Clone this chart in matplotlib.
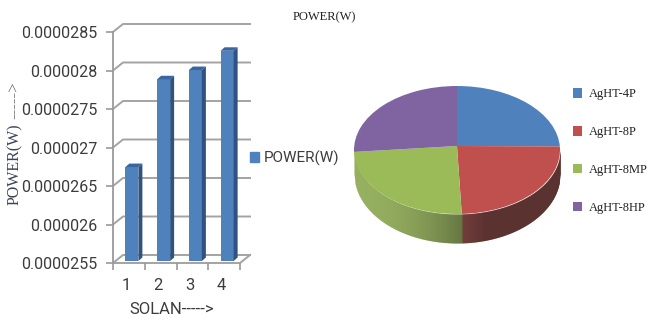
import numpy as np
import matplotlib
matplotlib.use("Agg")
import matplotlib.pyplot as plt
from matplotlib.colors import to_rgb

W, H = 648, 322
SANS = "Roboto"

solan = [1, 2, 3, 4]
power = [2.672e-5, 2.786e-5, 2.798e-5, 2.823e-5]
yticks = [2.55e-5, 2.6e-5, 2.65e-5, 2.7e-5, 2.75e-5, 2.8e-5, 2.85e-5]
ylabels = ["0.0000255", "0.000026", "0.0000265", "0.000027", "0.0000275", "0.000028", "0.0000285"]
pie_labels = ["AgHT-4P", "AgHT-8P", "AgHT-8MP", "AgHT-8HP"]
pie_colors = ["#4f81bd", "#c0504d", "#9bbb59", "#8064a2"]


def px_axes(fig, left, top, right, bottom):
    # axes placed by pixel box of the 648x322 picture
    return fig.add_axes([left / W, 1 - bottom / H, (right - left) / W, (bottom - top) / H])


def mix(c1, c2, t):
    return tuple(a + (b - a) * t for a, b in zip(to_rgb(c1), to_rgb(c2)))


fig = plt.figure(figsize=(W / 100, H / 100), dpi=100, facecolor="white")

# left chart, fake 3d column
ax = px_axes(fig, 113, 32, 240, 263)
ymin, ymax = 2.55e-5, 2.85e-5
ax.set_xlim(0.5, 4.5)
ax.set_ylim(ymin, ymax)
ax.patch.set_visible(False)
for s in ["top", "right", "bottom"]:
    ax.spines[s].set_visible(False)
ax.spines["left"].set_color("#9a9a9a")
ax.spines["left"].set_linewidth(1.3)

px_x = 4.0 / 127
px_y = (ymax - ymin) / 231
wall_dx, wall_dy = 10 * px_x, 8 * px_y
for v in yticks:
    ax.plot([0.5, 0.5 + wall_dx, 4.5 + wall_dx], [v, v + wall_dy, v + wall_dy],
            color="#a3a3a3", lw=1.4, clip_on=False, zorder=1)
ax.plot([0.5, 4.5, 4.5 + wall_dx], [ymin, ymin, ymin + wall_dy], color="#a3a3a3", lw=1.4,
        clip_on=False, zorder=1)

bar_w = 13 * px_x
shift = 3 * px_x
lift = 2 * px_y
dx, dy = 4 * px_x, 3.5 * px_y
xs = np.array(solan) + shift
ax.bar(xs, np.array(power) - ymin, bar_w, bottom=ymin + lift, color="#4f81bd", zorder=3, clip_on=False)
for x, v in zip(xs, power):
    r = x + bar_w / 2
    l = x - bar_w / 2
    top = v + lift
    ax.fill([r, r + dx, r + dx, r], [ymin + lift, ymin + lift + dy, top + dy, top],
            color="#2f5280", lw=0, zorder=3, clip_on=False)
    ax.fill([l, l + dx, r + dx, r], [top, top + dy, top + dy, top],
            color="#38679f", lw=0, zorder=3, clip_on=False)

ax.set_xticks([0.5, 1.5, 2.5, 3.5, 4.5], labels=[])
ax.set_xticks(np.array(solan) - 2.5 * px_x, labels=[str(s) for s in solan], minor=True)
ax.set_yticks(yticks, labels=ylabels)
ax.tick_params(axis="x", which="major", length=5, width=1.2, color="#9a9a9a")
ax.tick_params(axis="x", which="minor", length=0, pad=11, labelsize=12, labelcolor="#3c3c3c")
ax.tick_params(axis="y", length=5, width=1.2, color="#9a9a9a", pad=6, labelsize=11.5, labelcolor="#3c3c3c")
for t in ax.get_xticklabels(minor=True) + ax.get_yticklabels():
    t.set_fontfamily(SANS)

fig.text(172 / W, 1 - 309 / H, "SOLAN----->", family=SANS, fontsize=12, color="#3c3c3c",
         ha="center", va="center")
fig.text(15 / W, 1 - 164 / H, "POWER(W)", family="Liberation Serif", fontsize=11.5,
         color="#3b4458", rotation=90, ha="center", va="center")
fig.text(15 / W, 1 - 100 / H, "----->", family="Liberation Serif", fontsize=12, color="#6b6b6b",
         rotation=90, ha="center", va="center")

bar_handle = plt.Rectangle((0, 0), 1, 1, color="#4f81bd")
fig.legend([bar_handle], ["POWER(W)"], loc="center left", bbox_to_anchor=(250 / W, 1 - 158 / H),
           frameon=False, handlelength=0.6, handleheight=0.7, handletextpad=0.3, borderpad=0,
           borderaxespad=0, prop={"family": SANS, "size": 11}, labelcolor="#3c3c3c")

fig.text(324 / W, 1 - 17 / H, "POWER(W)", family="Liberation Serif", fontsize=9, color="#222222",
         ha="center", va="center")

# right chart, pie squashed into an ellipse with a shaded wall under it
pax = px_axes(fig, 354, 86, 560, 214)
wedges, _ = pax.pie(power, colors=pie_colors, startangle=90, counterclock=False, radius=1)
pax.set_aspect("auto")
pax.set_xlim(-1, 1)
pax.set_ylim(-1, 1)

# the slices meet a little above the ellipse centre
for w in wedges:
    verts = w.get_path().vertices
    verts[np.hypot(verts[:, 0], verts[:, 1]) < 0.01, 1] += 4 / 64

# x where the green and red walls meet, from the slice sizes
frac = np.cumsum(power) / np.sum(power)
split_x = np.cos(np.deg2rad(90 - 360 * frac[1]))
wall_h = 24 / 64
grid_x = np.linspace(-1, 1, 207)
for x0, x1 in zip(grid_x[:-1], grid_x[1:]):
    xm = (x0 + x1) / 2
    if xm < split_x:
        t = (xm + 1) / (split_x + 1)
        col = mix("#8ca950", "#566a2f", t ** 2)
    else:
        t = (xm - split_x) / (1 - split_x)
        col = mix("#642a28", "#4a1d1b", min(t * 4, 1))
    e = np.sqrt(np.clip(1 - np.array([x0, x1]) ** 2, 0, 1))
    pax.fill_between([x0, x1 + 0.003], -e, -e - wall_h - 5 / 64 * e, color=col, lw=0, clip_on=False, zorder=0)

fig.legend(wedges, pie_labels, loc="center left", bbox_to_anchor=(573 / W, 1 - 151 / H), frameon=False,
           handlelength=0.72, handleheight=0.8, handletextpad=0.56, labelspacing=2.05, borderpad=0,
           borderaxespad=0, prop={"family": "Liberation Serif", "size": 9}, labelcolor="#222222")

fig.savefig("out.png", dpi=100)
